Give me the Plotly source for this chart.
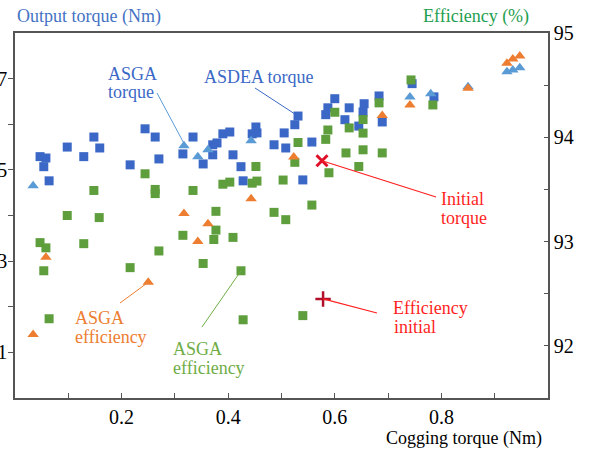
import plotly.graph_objects as go

# ---- data ---------------------------------------------------------------
# ASDEA output torque (Nm) vs cogging torque (Nm)
asdea_cog = [0.047, 0.058, 0.054, 0.064, 0.098, 0.148, 0.159, 0.129, 0.216, 0.244,
             0.263, 0.270, 0.315, 0.334, 0.353, 0.371, 0.379, 0.371, 0.390, 0.403,
             0.409, 0.424, 0.428, 0.452, 0.445, 0.454, 0.486, 0.508, 0.505, 0.525,
             0.531, 0.557, 0.540, 0.583, 0.587, 0.600, 0.627, 0.619, 0.655, 0.653,
             0.645, 0.683, 0.689, 0.745, 0.786]
asdea_torque = [5.29, 5.26, 5.07, 4.76, 5.50, 5.72, 5.48, 5.29, 5.11, 5.90,
                5.72, 5.24, 5.35, 5.72, 5.13, 5.55, 5.59, 5.33, 5.79, 5.83,
                5.33, 5.07, 4.76, 5.94, 5.79, 5.81, 5.55, 5.48, 5.81, 5.99,
                6.18, 5.61, 4.78, 6.21, 6.36, 6.56, 6.36, 6.10, 6.45, 6.27,
                5.96, 6.62, 6.05, 6.89, 6.60]

# ASGA output torque (Nm)
asga_cog = [0.034, 0.317, 0.343, 0.362, 0.443, 0.741, 0.780, 0.850, 0.923, 0.934, 0.947]
asga_torque = [4.65, 5.53, 5.29, 5.44, 5.64, 6.60, 6.67, 6.82, 7.15, 7.19, 7.24]

# ASGA efficiency (%)
asga_eff_cog = [0.034, 0.058, 0.250, 0.317, 0.343, 0.362, 0.443, 0.523, 0.689, 0.741,
                0.850, 0.923, 0.934, 0.947]
asga_eff = [92.11, 92.85, 92.61, 93.27, 93.00, 93.17, 93.41, 93.81, 94.21, 94.31,
            94.47, 94.71, 94.75, 94.78]

# ASDEA efficiency (%)
asdea_eff_cog = [0.047, 0.058, 0.054, 0.064, 0.098, 0.158, 0.129, 0.148, 0.216, 0.244,
                 0.263, 0.263, 0.270, 0.315, 0.334, 0.353, 0.373, 0.377, 0.377, 0.409,
                 0.424, 0.428, 0.390, 0.403, 0.445, 0.454, 0.452, 0.503, 0.486, 0.508,
                 0.557, 0.540, 0.525, 0.531, 0.583, 0.587, 0.600, 0.589, 0.621, 0.627,
                 0.653, 0.653, 0.653, 0.645, 0.683, 0.689, 0.743, 0.784]
asdea_eff = [92.99, 92.94, 92.72, 92.26, 93.25, 93.23, 92.98, 93.49, 92.75, 93.65,
             93.50, 93.46, 92.91, 93.06, 93.49, 92.79, 93.02, 93.11, 93.29, 93.04,
             92.72, 92.25, 93.55, 93.57, 93.56, 93.58, 93.72, 93.59, 93.28, 93.21,
             93.35, 92.29, 93.76, 93.95, 93.98, 94.07, 94.24, 93.66, 93.85, 94.09,
             94.17, 94.04, 93.88, 93.72, 94.33, 93.85, 94.55, 94.31]

# initial design
init_cog_t = 0.576
init_torque = 5.20
init_cog_e = 0.578
init_eff = 92.45

x_ticks = [0.1, 0.2, 0.3, 0.4, 0.5, 0.6, 0.7, 0.8, 0.9]
x_labels = ["", "0.2", "", "0.4", "", "0.6", "", "0.8", ""]
y_ticks = [1, 2, 3, 4, 5, 6, 7]
y_labels = ["1", "", "3", "", "5", "", "7"]
e_ticks = [92, 92.5, 93, 93.5, 94, 94.5, 95]
e_labels = ["92", "", "93", "", "94", "", "95"]

# ---- styling ------------------------------------------------------------
FONT = "Times New Roman, Liberation Serif, DejaVu Serif, serif"
BLUE = "#3B68C6"
LBLUE = "#5B9BD5"
ORANGE = "#ED7D31"
GREEN = "#5E9E3C"
LGREEN = "#70AD47"
RED = "#FF1F1F"
AXIS = "#555555"

W, H = 590, 456
L, R, T, B = 15, 548, 33, 398
X0, X1 = 0.0, 1.0
Y0, Y1 = 0.0, 8.0
E0, E1 = 91.5, 95.0


def fx(px):
    return (px - L) / (R - L)


def fy(py):
    return (B - py) / (B - T)


def dx(px):
    return X0 + (X1 - X0) * fx(px)


def dy(py):
    return Y0 + (Y1 - Y0) * fy(py)


def de(py):
    return E0 + (E1 - E0) * fy(py)


fig = go.Figure()

fig.add_trace(go.Scatter(x=asdea_cog, y=asdea_torque, mode="markers",
                         marker=dict(symbol="square", size=9, color=BLUE),
                         yaxis="y"))
fig.add_trace(go.Scatter(x=asga_cog, y=asga_torque, mode="markers",
                         marker=dict(symbol="triangle-up", size=10, color=LBLUE),
                         yaxis="y"))
fig.add_trace(go.Scatter(x=[init_cog_t], y=[init_torque], mode="markers",
                         marker=dict(symbol="x-thin", size=11,
                                     line=dict(color="#E0102A", width=3)),
                         yaxis="y"))
fig.add_trace(go.Scatter(x=asdea_eff_cog, y=asdea_eff, mode="markers",
                         marker=dict(symbol="square", size=9, color=GREEN),
                         yaxis="y2"))
fig.add_trace(go.Scatter(x=asga_eff_cog, y=asga_eff, mode="markers",
                         marker=dict(symbol="triangle-up", size=10, color=ORANGE),
                         yaxis="y2"))
fig.add_trace(go.Scatter(x=[init_cog_e], y=[init_eff], mode="markers",
                         marker=dict(symbol="cross-thin", size=11,
                                     line=dict(color="#B0102A", width=2.5)),
                         yaxis="y2"))

# leader lines from labels to their points
shapes = [
    dict(type="line", xref="x", yref="y", x0=dx(157), y0=dy(93),
         x1=asga_cog[1], y1=asga_torque[1] + 0.05, line=dict(color=LBLUE, width=1)),
    dict(type="line", xref="x", yref="y", x0=dx(255), y0=dy(88),
         x1=asdea_cog[30], y1=asdea_torque[30], line=dict(color=BLUE, width=1)),
    dict(type="line", xref="x", yref="y", x0=init_cog_t, y0=init_torque,
         x1=dx(436), y1=dy(197), line=dict(color=RED, width=1.2)),
    dict(type="line", xref="x", yref="y2", x0=init_cog_e, y0=init_eff,
         x1=dx(377), y1=de(313), line=dict(color=RED, width=1.2)),
    dict(type="line", xref="x", yref="y2", x0=dx(120), y0=de(303),
         x1=asga_eff_cog[2], y1=asga_eff[2], line=dict(color=ORANGE, width=1)),
    dict(type="line", xref="x", yref="y2", x0=dx(202), y0=de(327),
         x1=asdea_eff_cog[20], y1=asdea_eff[20], line=dict(color=LGREEN, width=1)),
]

annotations = []


def label(text, px, py, color, anchor="left", size=18):
    annotations.append(dict(text=text, xref="paper", yref="paper",
                            x=fx(px), y=fy(py), xanchor=anchor, yanchor="middle",
                            showarrow=False, borderpad=0,
                            font=dict(family=FONT, size=size, color=color)))


label("ASGA", 107, 74, BLUE)
label("torque", 107, 92, BLUE)
label("ASDEA torque", 203, 76.5, BLUE)
label("Initial", 440, 198.5, RED)
label("torque", 440, 217.5, RED)
label("Efficiency", 392, 307.5, RED)
label("initial", 393, 326.5, RED)
label("ASGA", 74, 317.5, ORANGE)
label("efficiency", 74, 336.5, ORANGE)
label("ASGA", 172, 348.5, LGREEN)
label("efficiency", 172, 367.5, LGREEN)

# axis titles
label("Output torque (Nm)", 16, 17, "#4472C4")
label("Efficiency (%)", 530, 17, "#1FA050", anchor="right")
label("Cogging torque (Nm)", 543, 438, "#000000", anchor="right")

tickfont = dict(family=FONT, size=20, color="#000000")

fig.update_layout(
    width=W, height=H,
    margin=dict(l=L, r=W - R, t=T, b=H - B, pad=0, autoexpand=False),
    paper_bgcolor="white", plot_bgcolor="white",
    showlegend=False,
    font=dict(family=FONT),
    shapes=shapes,
    annotations=annotations,
    xaxis=dict(range=[X0, X1], tickvals=x_ticks, ticktext=x_labels,
               ticks="inside", ticklen=5, tickcolor=AXIS, tickwidth=1.2,
               showline=True, linecolor=AXIS, linewidth=1.5, mirror=True,
               showgrid=False, zeroline=False, tickfont=tickfont, automargin=False),
    yaxis=dict(range=[Y0, Y1], tickvals=y_ticks, ticktext=y_labels,
               ticks="outside", ticklen=5, tickcolor=AXIS, tickwidth=1.2,
               ticklabelstandoff=-3,
               showline=True, linecolor=AXIS, linewidth=1.5,
               showgrid=False, zeroline=False, tickfont=tickfont, automargin=False),
    yaxis2=dict(range=[E0, E1], tickvals=e_ticks, ticktext=e_labels,
                overlaying="y", side="right",
                ticks="inside", ticklen=4, tickcolor=AXIS, tickwidth=1.2,
                showline=True, linecolor=AXIS, linewidth=1.5,
                showgrid=False, zeroline=False, tickfont=tickfont, automargin=False),
)

fig.write_html("out.html")
